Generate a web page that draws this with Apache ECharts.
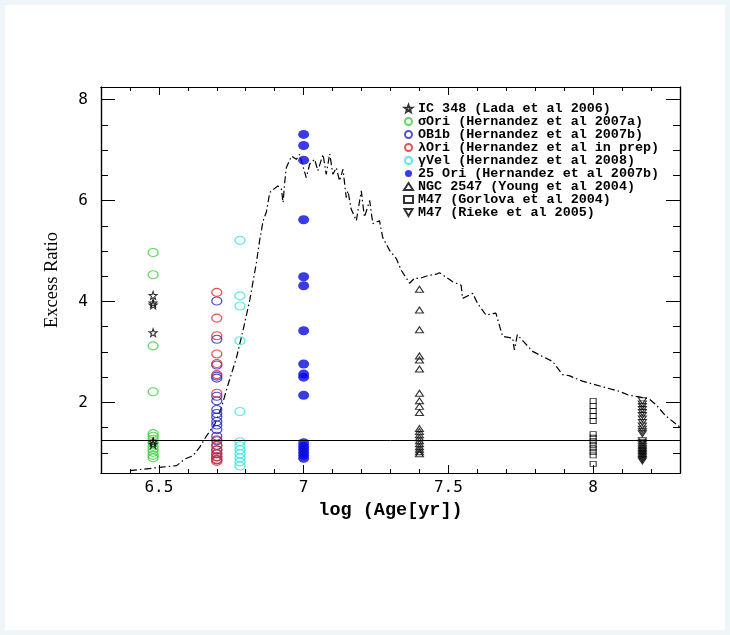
<!DOCTYPE html>
<html><head><meta charset="utf-8">
<script src="https://cdn.jsdelivr.net/npm/echarts@6/dist/echarts.min.js"></script>
<style>html,body{margin:0;padding:0;background:#fff}#c{width:730px;height:635px}</style>
</head><body><div id="c"></div>
<script>
// ---- tick labels / tick positions ----
const xTickLabels = [6.5, 7, 7.5, 8];
const xMinorTicks = [6.4,6.5,6.6,6.7,6.8,6.9,7.0,7.1,7.2,7.3,7.4,7.5,7.6,7.7,7.8,7.9,8.0,8.1,8.2];
const yTickLabels = [2, 4, 6, 8];
const yMinorTicks = [1,1.5,2,2.5,3,3.5,4,4.5,5,5.5,6,6.5,7,7.5,8];

// ---- series names ----
const seriesNames = [
  'IC 348 (Lada et al 2006)',
  'σOri (Hernandez et al 2007a)',
  'OB1b (Hernandez et al 2007b)',
  'λOri (Hernandez et al in prep)',
  'γVel (Hernandez et al 2008)',
  '25 Ori (Hernandez et al 2007b)',
  'NGC 2547 (Young et al 2004)',
  'M47 (Gorlova et al 2004)',
  'M47 (Rieke et al 2005)'
];

// ---- data (log age, excess ratio) ----
const ic348Age = 6.48;
const ic348Ratio = [4.12, 3.97, 3.93, 3.38, 1.22, 1.17];
const sigOriAge = 6.48;
const sigOriRatio = [4.97, 4.53, 3.12, 2.21, 1.38, 1.33, 1.27, 1.2, 1.13, 1.07, 1.01, 0.95, 0.9];
const ob1bAge = 6.70;
const ob1bRatio = [4.01, 3.25, 2.74, 2.52, 2.48, 2.12, 2.03, 1.86, 1.78, 1.71, 1.62, 1.55, 1.46, 1.33, 1.24, 1.15, 1.06, 0.98, 0.92, 0.86];
const lamOriAge = 6.70;
const lamOriRatio = [4.18, 3.67, 3.32, 2.96, 2.77, 2.55, 2.18, 1.26, 1.14, 1.05, 0.98, 0.92, 0.87, 0.83];
const gamVelAge = 6.78;
const gamVelRatio = [5.21, 4.11, 3.91, 3.22, 1.82, 1.22, 1.14, 1.06, 0.98, 0.9, 0.82, 0.74];
const ori25Age = 7.0;
const ori25Ratio = [7.31, 7.09, 6.80, 5.62, 4.49, 4.31, 3.42, 2.76, 2.56, 2.5, 2.14, 1.2, 1.13, 1.07, 1.01, 0.95, 0.89];
const ngc2547Age = 7.40;
const ngc2547Ratio = [4.24, 3.83, 3.44, 2.92, 2.84, 2.66, 2.18, 2.03, 1.92, 1.8, 1.48, 1.42, 1.36, 1.3, 1.24, 1.18, 1.12, 1.07, 1.02, 0.98];
const m47gAge = 8.0;
const m47gRatio = [2.03, 1.93, 1.83, 1.73, 1.63, 1.37, 1.3, 1.23, 1.16, 1.09, 1.02, 0.95, 0.78];
const m47rAge = 8.17;
const m47rRatio = [2.03, 1.97, 1.92, 1.86, 1.8, 1.74, 1.67, 1.6, 1.53, 1.47, 1.42, 1.38, 1.24, 1.2, 1.16, 1.12, 1.08, 1.05, 1.02, 0.99, 0.96, 0.93, 0.9, 0.87, 0.84];

// ---- model curve ----
const modelAge = [6.400,6.509,6.561,6.590,6.618,6.641,6.664,6.693,6.716,6.739,6.768,6.791,6.814,6.837,6.848,6.860,6.871,6.883,6.911,6.923,6.929,6.934,6.940,6.958,6.975,6.986,7.009,7.021,7.038,7.049,7.067,7.078,7.090,7.101,7.113,7.124,7.136,7.147,7.153,7.164,7.182,7.199,7.210,7.228,7.239,7.262,7.273,7.297,7.320,7.337,7.366,7.383,7.400,7.434,7.458,7.469,7.515,7.544,7.549,7.584,7.601,7.630,7.664,7.687,7.722,7.728,7.738,7.791,7.825,7.860,7.894,7.917,7.963,8.032,8.090,8.124,8.159,8.193,8.216,8.251,8.300];
const modelRatio = [0.648,0.715,0.746,0.878,0.943,1.114,1.33,1.567,1.90,2.354,2.886,3.437,4.03,4.776,5.209,5.60,5.766,6.16,6.29,6.226,5.96,6.325,6.65,6.88,6.817,6.915,6.455,6.724,6.817,6.59,6.915,6.52,6.927,6.52,6.65,6.39,6.62,6.06,6.19,5.83,5.60,6.19,5.67,6.0,5.54,5.60,5.27,5.01,4.85,4.62,4.36,4.46,4.455,4.52,4.54,4.57,4.39,4.32,4.06,4.16,3.96,3.73,3.77,3.31,3.27,3.04,3.34,3.01,2.91,2.81,2.55,2.53,2.42,2.31,2.22,2.14,2.11,2.07,1.96,1.73,1.51];
const thresholdRatio = 1.24;

const xMin = 6.3, xMax = 8.3, yMin = 0.6, yMax = 8.25;

const starPath = 'path://M0,-10 L2.35,-3.24 L9.51,-3.09 L3.8,1.24 L5.88,8.09 L0,4 L-5.88,8.09 L-3.8,1.24 L-9.51,-3.09 L-2.35,-3.24 Z';
const invTriPath = 'path://M0,0 L10,0 L5,8.6 Z';

function pts(age, arr) { return arr.map(v => [age, v]); }
function openSeries(name, data, symbol, size, color, bw) {
  return {
    type: 'scatter', name, data, symbol, symbolSize: size,
    itemStyle: { color: 'rgba(0,0,0,0)', borderColor: color, borderWidth: bw || 1.2 },
    emphasis: { disabled: true }, silent: true
  };
}

const monoFont = 'Liberation Mono';
const axisCol = '#000';
function xAx(pos, ticks, len, labels) {
  return {
    type: 'value', position: pos, min: xMin, max: xMax, gridIndex: 0,
    axisLine: { show: true, onZero: false, lineStyle: { color: axisCol, width: 1.2 } },
    axisTick: { show: true, inside: true, length: len, customValues: ticks, lineStyle: { color: axisCol, width: 1 } },
    axisLabel: labels ? { show: true, customValues: labels, margin: 7, color: '#000', fontFamily: 'DejaVu Sans Mono', fontSize: 16, formatter: v => String(v) } : { show: false },
    splitLine: { show: false }
  };
}
function yAx(pos, ticks, len, labels) {
  return {
    type: 'value', position: pos, min: yMin, max: yMax, gridIndex: 0,
    axisLine: { show: true, onZero: false, lineStyle: { color: axisCol, width: 1.2 } },
    axisTick: { show: true, inside: true, length: len, customValues: ticks, lineStyle: { color: axisCol, width: 1 } },
    axisLabel: labels ? { show: true, customValues: labels, margin: 13, color: '#000', fontFamily: 'DejaVu Sans Mono', fontSize: 16, formatter: v => String(v) } : { show: false },
    splitLine: { show: false }
  };
}

const xAxes = [xAx('bottom', xMinorTicks, 4, xTickLabels), xAx('bottom', xTickLabels, 8, null), xAx('top', xMinorTicks, 4, null), xAx('top', xTickLabels, 8, null)];
xAxes[0].name = 'log (Age[yr])';
xAxes[0].nameLocation = 'middle';
xAxes[0].nameGap = 25;
xAxes[0].nameTextStyle = { fontFamily: monoFont, fontSize: 18.5, color: '#000', fontWeight: 'bold' };
const yAxes = [yAx('left', yMinorTicks, 7, yTickLabels), yAx('left', yTickLabels, 14, null), yAx('right', yMinorTicks, 7, null), yAx('right', yTickLabels, 14, null)];
yAxes[0].name = 'Excess Ratio';
yAxes[0].nameLocation = 'middle';
yAxes[0].nameGap = 39;
yAxes[0].nameRotate = 90;
yAxes[0].nameTextStyle = { fontFamily: 'Liberation Serif', fontSize: 18.5, color: '#000' };

const series = [
  {
    type: 'line', name: 'model', data: modelAge.map((a, i) => [a, modelRatio[i]]),
    symbol: 'none', silent: true, z: 1,
    lineStyle: { color: '#000', width: 1.2, type: [7, 3, 1.5, 3] },
    markLine: { silent: true, symbol: 'none', label: { show: false },
      lineStyle: { color: '#000', width: 1, type: 'solid' },
      data: [{ yAxis: thresholdRatio }] }
  },
  openSeries(seriesNames[1], pts(sigOriAge, sigOriRatio), 'circle', [10, 8], '#3fcc3f'),
  openSeries(seriesNames[2], pts(ob1bAge, ob1bRatio), 'circle', [10, 8], '#2525c0'),
  openSeries(seriesNames[3], pts(lamOriAge, lamOriRatio), 'circle', [10, 8], '#dd2a2a'),
  openSeries(seriesNames[4], pts(gamVelAge, gamVelRatio), 'circle', [10, 8], '#3adede'),
  {
    type: 'scatter', name: seriesNames[5], data: pts(ori25Age, ori25Ratio), symbol: 'circle', symbolSize: [11, 9],
    itemStyle: { color: '#0a0ae0' }, silent: true
  },
  openSeries(seriesNames[0], pts(ic348Age, ic348Ratio), starPath, [8, 8], '#000', 1.1),
  openSeries(seriesNames[6], pts(ngc2547Age, ngc2547Ratio), 'triangle', [8, 6], '#000', 1.1),
  openSeries(seriesNames[7], pts(m47gAge, m47gRatio), 'rect', [6, 5], '#000', 1),
  openSeries(seriesNames[8], pts(m47rAge, m47rRatio), invTriPath, [8, 6], '#000', 1.1)
];

const chart = echarts.init(document.getElementById('c'), null, { renderer: 'canvas' });
chart.setOption({
  backgroundColor: '#ffffff',
  animation: false,
  graphic: [{ type: 'rect', shape: { x: 0, y: 0, width: 730, height: 635 }, style: { fill: 'none', stroke: '#eef6fa', lineWidth: 10 }, silent: true, z: -10 }],
  grid: { left: 101, top: 87, width: 579, height: 386, containLabel: false },
  legend: {
    data: seriesNames, orient: 'vertical', left: 398, top: 97,
    itemWidth: 9, itemHeight: 7, itemGap: 0, selectedMode: false,
    textStyle: { fontFamily: monoFont, fontSize: 13.4, fontWeight: 'bold', color: '#000', lineHeight: 12.7 }
  },
  xAxis: xAxes,
  yAxis: yAxes,
  series
});
</script></body></html>
